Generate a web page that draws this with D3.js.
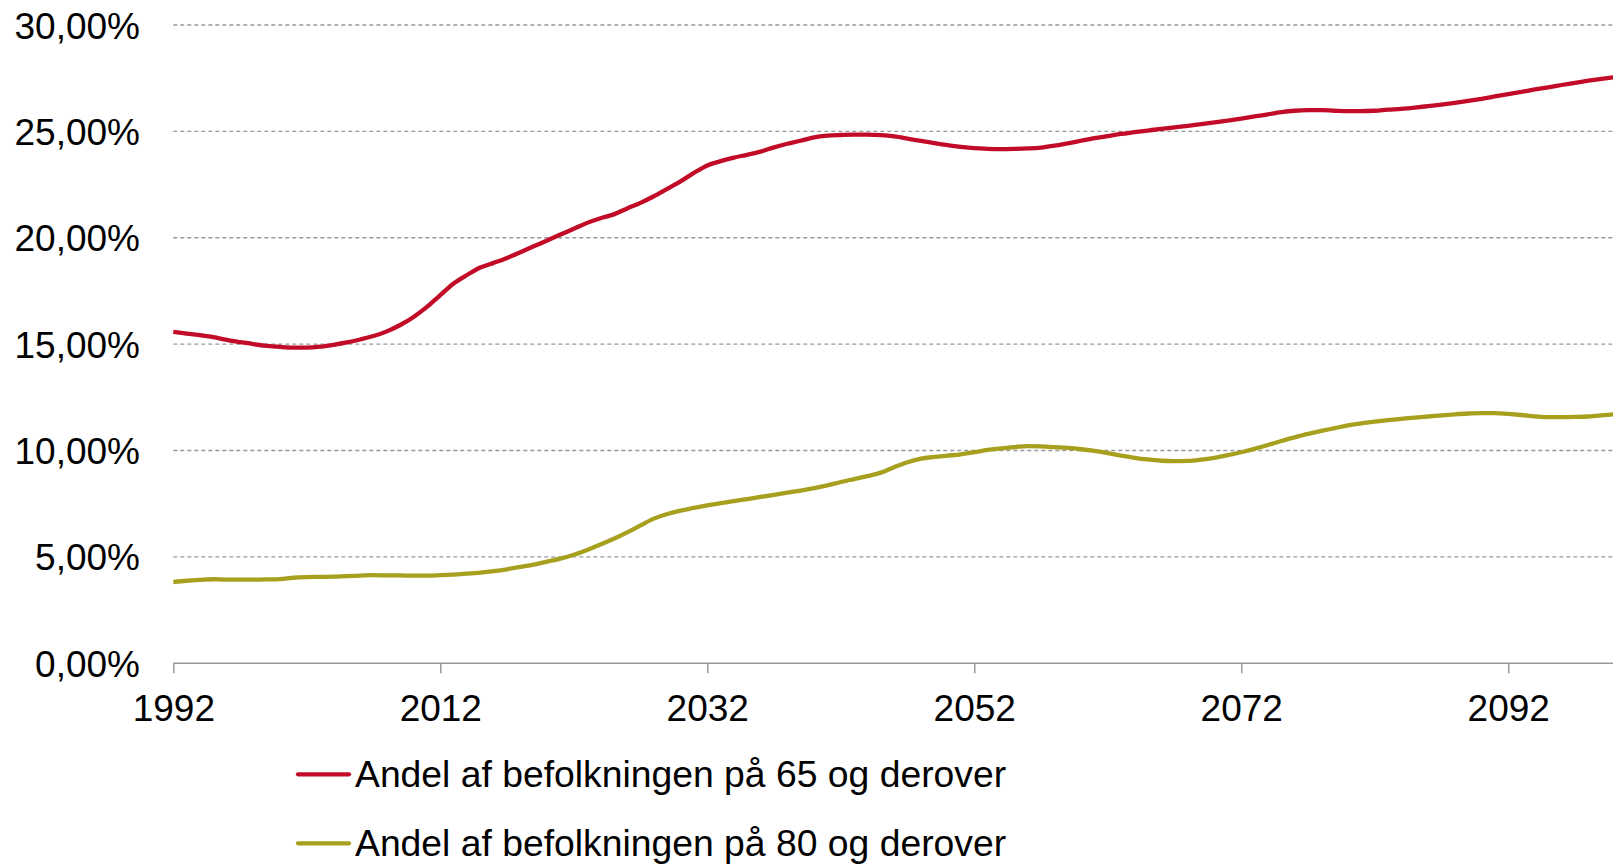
<!DOCTYPE html>
<html>
<head>
<meta charset="utf-8">
<script src="https://cdn.jsdelivr.net/npm/d3@7"></script>
<style>
html, body { margin: 0; padding: 0; background: #fff; overflow: hidden; }
svg { display: block; font-family: "Liberation Sans", Arial, sans-serif; }
</style>
</head>
<body>
<svg id="chart" width="1613" height="866"></svg>
<script>
const startYear = 1992;
const endYear = 2100;
const xTickYears = [1992, 2012, 2032, 2052, 2072, 2092];
const yTicks = [0, 5, 10, 15, 20, 25, 30];
const seriesNames = ["Andel af befolkningen på 65 og derover", "Andel af befolkningen på 80 og derover"];
const seriesColors = ["#C20C27", "#A6A01E"];

// Share of population aged 65+ (%), 1992-2100
const age65 = [
  15.58, 15.50, 15.42, 15.33, 15.20, 15.10, 15.00, 14.92, 14.87, 14.84,
  14.84, 14.88, 14.97, 15.08, 15.22, 15.38, 15.60, 15.90, 16.28, 16.75,
  17.30, 17.85, 18.25, 18.60, 18.82, 19.05, 19.32, 19.60, 19.87, 20.15,
  20.42, 20.70, 20.92, 21.10, 21.38, 21.64, 21.95, 22.30, 22.65, 23.05,
  23.40, 23.60, 23.77, 23.90, 24.05, 24.25, 24.42, 24.56, 24.72, 24.80,
  24.83, 24.85, 24.85, 24.82, 24.76, 24.66, 24.55, 24.45, 24.35, 24.27,
  24.21, 24.18, 24.17, 24.18, 24.20, 24.24, 24.33, 24.44, 24.56, 24.68,
  24.78, 24.88, 24.96, 25.04, 25.12, 25.19, 25.26, 25.34, 25.42, 25.51,
  25.60, 25.70, 25.80, 25.90, 25.97, 26.00, 26.00, 25.97, 25.95, 25.95,
  25.97, 26.02, 26.06, 26.12, 26.19, 26.26, 26.34, 26.43, 26.53, 26.64,
  26.75, 26.86, 26.97, 27.07, 27.18, 27.28, 27.38, 27.47, 27.55
];

// Share of population aged 80+ (%), 1992-2100
const age80 = [
  3.82, 3.88, 3.92, 3.95, 3.93, 3.93, 3.93, 3.94, 3.96, 4.02,
  4.05, 4.06, 4.07, 4.10, 4.12, 4.14, 4.13, 4.13, 4.12, 4.12,
  4.14, 4.17, 4.21, 4.26, 4.33, 4.42, 4.53, 4.64, 4.78, 4.92,
  5.10, 5.33, 5.58, 5.85, 6.15, 6.48, 6.80, 7.02, 7.18, 7.30,
  7.42, 7.53, 7.62, 7.72, 7.82, 7.92, 8.02, 8.12, 8.23, 8.36,
  8.52, 8.66, 8.80, 8.96, 9.22, 9.45, 9.62, 9.70, 9.76, 9.82,
  9.92, 10.03, 10.10, 10.16, 10.21, 10.20, 10.16, 10.12, 10.06, 9.98,
  9.88, 9.76, 9.66, 9.58, 9.52, 9.50, 9.51, 9.57, 9.66, 9.78,
  9.92, 10.08, 10.26, 10.45, 10.62, 10.78, 10.92, 11.05, 11.18, 11.28,
  11.36, 11.43, 11.49, 11.55, 11.60, 11.65, 11.70, 11.74, 11.76, 11.76,
  11.72, 11.67, 11.61, 11.57, 11.57, 11.58, 11.60, 11.65, 11.71
];

const years = d3.range(startYear, endYear + 1);
const series = [age65, age80];

const svg = d3.select("#chart");
const x = d3.scaleLinear().domain([startYear, endYear]).range([173.3, 1615]);
const y = d3.scaleLinear().domain([0, 30]).range([663.3, 25]);
const fmt = v => d3.format(".2f")(v).replace(".", ",") + "%";

// grid lines
svg.append("g").selectAll("line")
  .data(yTicks.filter(d => d > 0))
  .join("line")
  .attr("x1", 173.3).attr("x2", 1613)
  .attr("y1", d => y(d)).attr("y2", d => y(d))
  .attr("stroke", "#999").attr("stroke-width", 1.4)
  .attr("stroke-dasharray", "4,3");

// y labels
svg.append("g").selectAll("text")
  .data(yTicks)
  .join("text")
  .attr("x", 140).attr("y", d => y(d) + 13.5)
  .attr("text-anchor", "end")
  .attr("font-size", 37).attr("fill", "#000")
  .text(fmt);

// x axis
const xAxis = svg.append("g")
  .attr("transform", `translate(0,${y(0)})`)
  .call(d3.axisBottom(x).tickValues(xTickYears).tickFormat(d3.format("d")).tickSize(10).tickSizeOuter(0));
xAxis.select(".domain").attr("stroke", "#999").attr("stroke-width", 1.5).attr("d", `M${x(startYear)},0H1613`);
xAxis.selectAll(".tick line").attr("stroke", "#999").attr("stroke-width", 1.5);
xAxis.selectAll(".tick text")
  .attr("y", 57.7).attr("dy", 0)
  .attr("font-size", 37).attr("fill", "#000")
  .attr("font-family", "Liberation Sans, Arial, sans-serif");

// lines
const line = d3.line()
  .x((d, i) => x(years[i]))
  .y(d => y(d))
  .curve(d3.curveMonotoneX);

svg.append("g").selectAll("path")
  .data(series)
  .join("path")
  .attr("d", line)
  .attr("fill", "none")
  .attr("stroke", (d, i) => seriesColors[i])
  .attr("stroke-width", 4.3)
  .attr("stroke-linejoin", "round");

// legend
const legendY = [774.3, 843.3];
const lg = svg.append("g").selectAll("g")
  .data(seriesNames)
  .join("g")
  .attr("transform", (d, i) => `translate(0,${legendY[i]})`);
lg.append("line")
  .attr("x1", 298).attr("x2", 349)
  .attr("y1", 0).attr("y2", 0)
  .attr("stroke", (d, i) => seriesColors[i])
  .attr("stroke-width", 4.3)
  .attr("stroke-linecap", "round");
lg.append("text")
  .attr("x", 355).attr("y", 12.5)
  .attr("font-size", 37.3).attr("fill", "#000")
  .text(d => d);
</script>
</body>
</html>
